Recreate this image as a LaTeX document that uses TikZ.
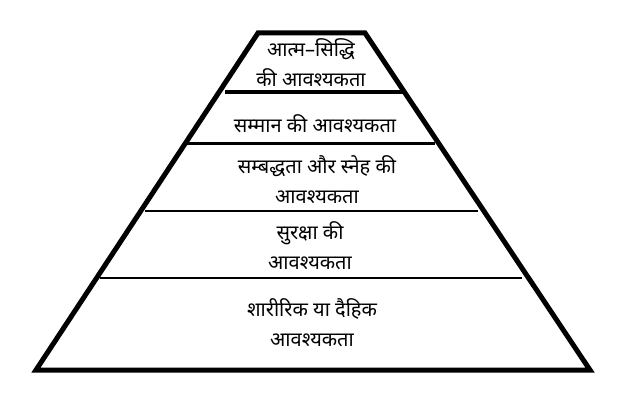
\documentclass[tikz,border=0pt]{standalone}
\usepackage{fontspec}
\newfontfamily\deva[Script=Devanagari]{Noto Sans}
\begin{document}
\begin{tikzpicture}[x=1pt,y=-1pt,
  lbl/.style={font=\deva\fontsize{20}{30}\selectfont,align=center,inner sep=0pt},
  side/.style={line width=5pt,line join=miter},
  div/.style={line width=2pt}]
\useasboundingbox (0,0) rectangle (624,420);
\coordinate (tl) at (258,33); \coordinate (tr) at (365,33);
\coordinate (br) at (590,370); \coordinate (bl) at (36,370);
\draw[side] (tl) -- (tr) -- (br) -- (bl) -- cycle;
\coordinate (d1a) at (225,92); \coordinate (d1b) at (405,92);
\coordinate (d2a) at (183,143); \coordinate (d2b) at (435,143);
\coordinate (d3a) at (145,211); \coordinate (d3b) at (478,211);
\coordinate (d4a) at (100,278); \coordinate (d4b) at (522,278);
\draw[div,line width=3pt] (d1a) -- (d1b);
\draw[div,line width=3pt] (d2a) -- (d2b);
\draw[div] (d3a) -- (d3b);
\draw[div] (d4a) -- (d4b);
\node[lbl] (l1) at (311,63) {आत्म–सिद्धि\\की आवश्यकता};
\node[lbl] (l2) at (315,124) {सम्मान की आवश्यकता};
\node[lbl] (l3) at (317,180) {सम्बद्धता और स्नेह की\\आवश्यकता};
\node[lbl] (l4) at (310,246) {सुरक्षा की\\आवश्यकता};
\node[lbl] (l5) at (312,323) {शारीरिक या दैहिक\\आवश्यकता};
\end{tikzpicture}
\end{document}
